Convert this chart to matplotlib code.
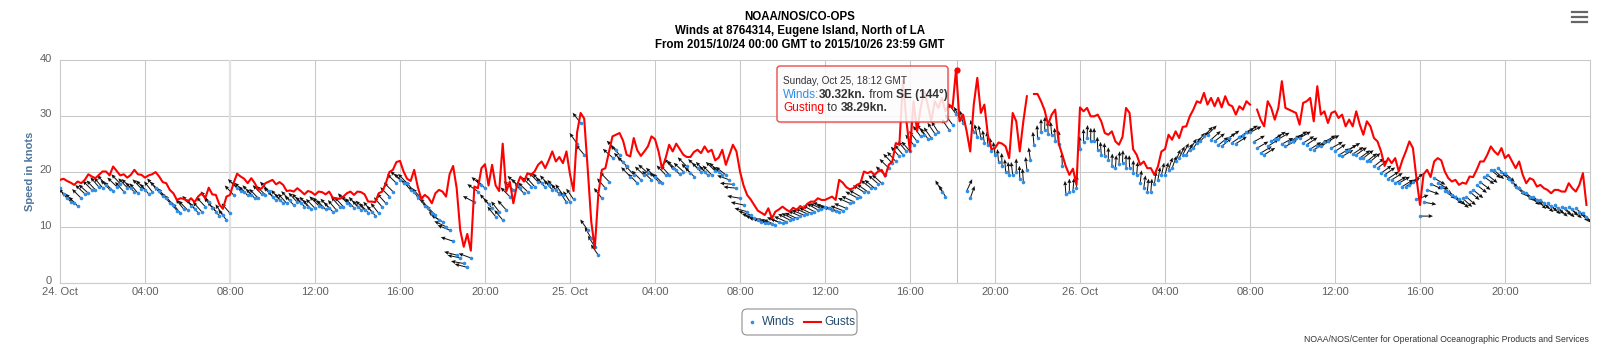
import numpy as np
import matplotlib.pyplot as plt
from matplotlib.patches import FancyBboxPatch
from matplotlib.lines import Line2D
from matplotlib.transforms import IdentityTransform, ScaledTranslation

W, H = 1600, 349
plt.rcParams['font.family'] = ['Liberation Sans', 'DejaVu Sans']

TITLE_LINES = ["NOAA/NOS/CO-OPS",
               "Winds at 8764314, Eugene Island, North of LA",
               "From 2015/10/24 00:00 GMT to 2015/10/26 23:59 GMT"]
Y_TITLE = "Speed in knots"
CREDITS = "NOAA/NOS/Center for Operational Oceanographic Products and Services"

# hours since 2015-10-24 00:00 GMT
X_TICK_HOURS = list(range(0, 72, 4))
X_TICK_LABELS = ["24. Oct", "04:00", "08:00", "12:00", "16:00", "20:00",
                 "25. Oct", "04:00", "08:00", "12:00", "16:00", "20:00",
                 "26. Oct", "04:00", "08:00", "12:00", "16:00", "20:00"]
Y_TICKS = [0, 10, 20, 30, 40]

# gusts, one value every 10 minutes (None = no data), one row per hour
gust_kn = [
    18.5, 18.7, 18.3, 18.0, 17.6, 18.2,
    17.9, 18.5, 19.5, 19.1, 18.8, 19.4,
    20.0, 20.0, 19.3, 20.9, 20.1, 19.3,
    19.5, 18.9, 19.4, 20.3, 19.5, 19.4,
    18.9, 19.3, 19.5, 19.9, 19.1, 18.1,
    17.9, 16.7, 16.1, 14.9, 15.2, 15.1,
    14.6, 15.2, 14.5, 15.5, 16.1, 15.2,
    17.1, 15.9, 15.8, 14.1, 13.3, 15.5,
    15.8, 17.9, 19.6, 19.1, 18.7, 17.9,
    18.8, 17.9, 16.7, 17.0, 17.9, 18.2,
    18.5, 17.7, 18.1, 17.6, 16.5, 16.6,
    16.4, 17.0, 16.5, 15.9, 16.5, 16.3,
    15.8, 16.4, 16.3, 15.9, 16.4, 15.3,
    15.2, 15.1, 15.5, 16.1, 16.4, 15.8,
    16.4, 16.3, 15.9, 14.6, 14.6, 14.5,
    16.1, 16.4, 17.9, 19.9, 20.3, 21.7,
    21.9, 20.0, 18.7, 18.3, 20.3, 17.3,
    15.1, 15.8, 15.3, 14.3, 16.1, 16.7,
    16.4, 15.5, 19.5, 21.0, 17.0, 9.5,
    6.5, 8.8, 5.8, 17.3, 17.0, 20.6,
    21.3, 17.5, 21.2, 17.5, 16.5, 25.0,
    16.4, 18.2, 14.3, 17.5, 19.1, 18.2,
    19.7, 19.4, 20.0, 21.2, 21.8, 20.6,
    22.0, 23.6, 21.8, 22.6, 21.5, 23.6,
    19.5, 16.5, 27.0, 30.5, 29.5, 20.5,
    11.0, 6.2, 16.0, 20.3, 20.6, 23.5,
    26.3, 26.6, 26.9, 25.5, 23.0, 22.7,
    26.0, 23.8, 22.8, 23.6, 24.5, 26.3,
    25.8, 23.6, 20.5, 22.4, 24.8, 23.6,
    25.0, 24.0, 23.0, 22.6, 22.6, 23.5,
    23.9, 23.3, 24.5, 23.5, 23.9, 22.0,
    22.5, 23.9, 21.2, 23.0, 24.8, 23.6,
    20.0, 17.5, 15.8, 15.0, 14.0, 13.0,
    12.6, 12.2, 13.4, 11.6, 12.8, 13.2,
    13.7, 13.2, 12.8, 13.5, 13.1, 13.8,
    13.4, 14.2, 14.6, 14.6, 15.2, 14.9,
    14.9, 15.2, 15.5, 14.9, 18.5, 18.0,
    17.2, 16.8, 17.0, 17.6, 17.9, 20.0,
    19.7, 20.0, 19.4, 20.0, 20.3, 19.1,
    21.2, 21.8, 25.1, 24.8, 36.2, 29.0,
    23.6, 32.6, 27.2, 31.4, 34.4, 32.0,
    29.0, 32.6, 31.4, 33.2, 30.8, 32.0,
    31.4, 38.3, 29.0, 30.2, 27.2, 23.6,
    32.0, 36.8, 30.5, 32.0, 26.5, 24.0,
    24.2, 25.2, 25.0, 24.5, 22.4, 30.5,
    29.0, 23.6, 29.0, 33.5, None, 33.9,
    33.9, 32.6, 31.0, 28.4, 30.2, 31.1,
    25.0, 23.0, 20.9, 19.4, 20.5, 17.6,
    31.5, 30.8, 31.4, 29.9, 29.9, 30.2,
    29.0, 26.9, 26.6, 27.2, 25.4, 24.8,
    26.2, 31.4, 30.5, 24.0, 23.0, 21.2,
    21.8, 20.6, 20.6, 19.4, 20.9, 23.6,
    24.0, 26.6, 25.7, 27.2, 26.0, 28.0,
    28.1, 29.9, 31.1, 32.6, 32.3, 34.1,
    32.0, 33.2, 31.7, 33.2, 31.5, 33.5,
    32.0, 31.7, 30.2, 31.7, 31.1, 32.6,
    32.0, None, 31.1, 29.3, 28.1, 32.6,
    31.4, 29.3, 31.4, 36.2, 31.4, 31.1,
    30.8, 30.5, 28.4, 32.3, 32.6, 33.2,
    29.0, 35.3, 30.2, 30.8, 28.7, 30.5,
    30.8, 29.6, 30.2, 28.1, 29.3, 28.1,
    30.8, 28.4, 26.6, 29.0, 28.1, 26.0,
    25.4, 23.6, 21.0, 22.4, 21.5, 22.4,
    20.0, 22.0, 23.6, 25.4, 24.2, 18.8,
    14.0, 19.5, 20.3, 19.0, 21.8, 22.4,
    22.0, 20.0, 18.8, 18.2, 18.5, 17.6,
    18.0, 17.8, 19.1, 19.0, 20.3, 21.8,
    21.8, 23.0, 24.5, 23.6, 23.0, 24.2,
    22.4, 23.0, 21.8, 20.6, 21.8, 19.4,
    17.9, 18.8, 18.5, 17.3, 17.6, 17.0,
    16.7, 16.1, 16.7, 16.7, 16.4, 16.4,
    17.9, 17.0, 16.4, 17.6, 19.7, 14.0,
]

# winds, one value every 10 minutes, one row per hour
wind_kn = [
    17.0, 16.0, 15.2, 14.6, 14.3, 13.8,
    15.2, 16.0, 16.1, 16.7, 16.7, 17.2,
    17.1, 17.6, 16.8, 16.5, 17.3, 17.8,
    16.4, 17.1, 17.0, 16.3, 16.1, 16.9,
    16.7, 16.0, 16.4, 17.0, 16.5, 15.6,
    15.2, 14.4, 14.0, 13.0, 12.5, 13.2,
    13.1, 13.9, 13.3, 12.6, 12.8, 13.7,
    14.6, 13.5, 12.8, 12.0, 12.2, 11.3,
    12.5, 15.8, 17.0, 16.5, 16.4, 15.7,
    15.8, 15.2, 15.2, 15.9, 15.8, 16.5,
    15.5, 14.8, 14.9, 14.3, 14.3, 14.8,
    14.0, 14.5, 14.3, 13.7, 13.7, 13.2,
    13.4, 13.9, 13.7, 13.2, 13.4, 12.8,
    13.1, 13.7, 13.7, 14.4, 14.0, 13.5,
    13.7, 13.1, 13.1, 12.6, 12.8, 12.1,
    12.5, 13.6, 14.3, 15.5, 16.4, 17.9,
    18.5, 18.0, 17.9, 16.7, 16.4, 15.5,
    15.2, 13.9, 13.4, 12.5, 12.2, 11.3,
    11.0, 10.1, 9.5, 7.5, 5.0, 4.5,
    3.5, 2.8, 4.5, 14.5, 16.4, 17.5,
    17.0, 14.2, 13.4, 11.9, 12.8, 11.3,
    13.1, 15.5, 16.7, 17.6, 17.0, 16.1,
    16.4, 17.3, 17.3, 18.1, 18.0, 17.2,
    17.6, 16.7, 16.7, 15.9, 15.8, 14.5,
    14.5, 15.0, 25.0, 28.7, 23.0, 9.5,
    8.0, 6.5, 5.0, 15.2, 17.0, 18.2,
    22.5, 23.9, 23.0, 21.7, 21.0, 19.1,
    19.4, 17.9, 18.5, 19.3, 19.7, 18.5,
    19.0, 18.2, 18.0, 19.4, 19.4, 20.6,
    20.3, 19.5, 20.0, 20.9, 19.7, 19.1,
    20.6, 19.9, 20.0, 19.3, 19.4, 20.1,
    20.0, 19.4, 19.4, 18.5, 17.7, 17.0,
    15.2, 14.0, 12.8, 12.2, 11.6, 11.3,
    11.0, 10.8, 10.7, 10.5, 10.4, 10.9,
    10.7, 11.0, 11.3, 11.5, 11.6, 12.0,
    12.2, 12.4, 12.5, 12.8, 13.1, 13.3,
    13.7, 13.4, 13.1, 12.9, 12.8, 13.0,
    13.4, 14.3, 14.6, 15.3, 15.5, 16.3,
    16.4, 17.0, 17.0, 17.8, 17.9, 19.3,
    20.6, 21.5, 21.8, 22.7, 23.0, 23.6,
    23.6, 24.8, 25.4, 26.3, 26.6, 25.9,
    26.0, 26.8, 27.0, 16.4, 15.5, 27.5,
    28.4, 30.3, 29.5, 28.7, 16.5, 15.2,
    27.0, 26.2, 26.0, 25.1, 24.8, 23.7,
    23.0, 21.7, 21.0, 19.9, 19.4, 19.4,
    20.0, 18.7, 18.2, 20.3, 22.0, 24.8,
    26.0, 27.1, 27.5, 26.7, 26.6, 25.5,
    25.0, 21.0, 16.0, 16.4, 16.5, 17.0,
    24.0, 25.3, 26.0, 25.5, 25.5, 23.9,
    23.0, 22.8, 22.0, 20.9, 20.6, 21.3,
    21.5, 20.7, 20.6, 19.7, 19.4, 17.9,
    17.0, 16.4, 16.4, 17.7, 18.5, 19.3,
    19.4, 20.3, 20.6, 21.8, 22.4, 23.0,
    23.0, 23.9, 24.2, 25.1, 25.4, 26.3,
    26.6, 25.7, 25.4, 24.7, 24.5, 25.5,
    26.0, 25.2, 25.0, 26.1, 26.6, 27.1,
    27.0, 25.3, 24.2, 23.3, 23.0, 24.5,
    25.4, 25.9, 25.8, 24.9, 24.5, 25.3,
    25.4, 26.0, 26.0, 25.1, 24.8, 24.0,
    23.9, 24.5, 24.5, 25.3, 25.4, 24.2,
    23.6, 22.9, 22.7, 23.6, 23.9, 23.1,
    23.0, 22.4, 22.4, 21.8, 21.8, 20.9,
    20.6, 19.7, 19.4, 18.7, 18.5, 17.9,
    17.9, 17.3, 17.3, 17.5, 18.2, 15.0,
    12.0, 14.5, 16.7, 17.8, 18.8, 18.0,
    17.3, 16.5, 16.4, 15.7, 15.5, 15.0,
    15.2, 15.5, 16.4, 16.7, 17.6, 18.1,
    19.1, 19.4, 20.3, 20.2, 20.6, 19.9,
    19.7, 18.7, 18.2, 17.3, 17.0, 16.3,
    16.1, 15.5, 15.5, 14.9, 14.9, 14.3,
    14.3, 13.9, 14.0, 13.5, 13.7, 13.4,
    13.7, 13.2, 13.4, 12.7, 12.5, 11.9,
]

# direction the wind comes from, degrees, same times as wind_kn
wind_dir_deg = [
    135, 138, 140, 137, 138, 136, 135, 133, 132, 135, 137, 139,
    140, 138, 136, 135, 134, 137, 138, 136, 135, 138, 140, 137,
    137, 140, 142, 139, 136, 138, 140, 139, 138, 140, 142, 141,
    136, 138, 140, 139, 138, 137, 142, 141, 140, 143, 145, 142,
    140, 137, 135, 134, 132, 135, 138, 137, 136, 135, 134, 136,
    137, 139, 140, 139, 138, 136, 135, 137, 138, 139, 140, 138,
    136, 135, 134, 136, 138, 137, 140, 138, 137, 136, 135, 137,
    138, 137, 136, 138, 140, 139, 142, 140, 138, 136, 135, 134,
    132, 134, 136, 138, 140, 139, 138, 140, 142, 138, 135, 128,
    120, 115, 112, 108, 105, 102, 100, 105, 110, 118, 125, 130,
    135, 138, 140, 141, 142, 140, 138, 135, 132, 134, 136, 135,
    134, 136, 138, 136, 135, 136, 137, 139, 140, 142, 145, 146,
    148, 146, 145, 142, 140, 145, 150, 148, 145, 142, 140, 136,
    132, 134, 136, 135, 134, 136, 138, 136, 135, 133, 132, 134,
    136, 135, 134, 136, 138, 137, 135, 133, 132, 135, 137, 136,
    134, 136, 138, 137, 136, 134, 132, 130, 128, 110, 95, 96,
    100, 102, 105, 108, 110, 109, 108, 110, 112, 114, 115, 112,
    110, 114, 118, 116, 115, 113, 112, 114, 116, 118, 120, 115,
    108, 106, 105, 108, 110, 111, 112, 114, 115, 118, 120, 122,
    125, 128, 130, 131, 132, 134, 135, 136, 138, 139, 140, 140,
    140, 141, 142, 144, 145, 145, 145, 146, 148, 150, 150, 146,
    144, 144, 155, 165, 205, 200, 165, 168, 170, 172, 175, 174,
    172, 175, 178, 176, 175, 173, 180, 178, 176, 174, 172, 175,
    178, 180, 182, 178, 175, 177, 180, 178, 176, 180, 185, 182,
    178, 180, 182, 181, 180, 178, 176, 178, 180, 182, 184, 183,
    182, 180, 178, 181, 185, 186, 188, 186, 185, 188, 190, 192,
    195, 198, 200, 202, 205, 208, 210, 212, 215, 218, 220, 222,
    225, 228, 232, 231, 230, 233, 235, 236, 238, 239, 240, 241,
    242, 241, 240, 239, 238, 237, 236, 238, 240, 241, 242, 240,
    238, 239, 240, 238, 236, 237, 240, 239, 238, 240, 242, 241,
    236, 238, 240, 239, 238, 236, 235, 233, 232, 231, 230, 231,
    232, 234, 235, 236, 238, 239, 240, 238, 236, 234, 232, 250,
    270, 280, 290, 295, 300, 302, 305, 306, 308, 309, 310, 311,
    312, 311, 310, 309, 308, 307, 306, 308, 310, 312, 314, 313,
    312, 314, 315, 312, 310, 309, 308, 310, 312, 314, 315, 313,
    310, 312, 314, 313, 312, 314, 315, 313, 312, 315, 318, 320,
]

# hovered point shown in the tooltip
TIP_DATE = "Sunday, Oct 25, 18:12 GMT"
TIP_HOUR = 42.2
TIP_WIND = 30.32
TIP_DIR_TEXT = "SE (144\u00b0)"
TIP_GUST = 38.29

WIND_BLUE = '#2f8fe8'
GRID = '#C8C8C8'


def fx(x):
    return x / W


def fy(y):
    return 1 - y / H


gust = np.array([np.nan if g is None else g for g in gust_kn], dtype=float)
gust_hours = np.arange(len(gust)) / 6
wind = np.array(wind_kn, dtype=float)
wind_hours = np.arange(len(wind)) / 6
toward = np.radians(np.array(wind_dir_deg) + 180)
ARROW_PX = 13
u = ARROW_PX * np.sin(toward)
v = ARROW_PX * np.cos(toward)

fig = plt.figure(figsize=(W / 100, H / 100), dpi=100)
fig.patch.set_facecolor('white')
ax = fig.add_axes([60 / W, 1 - 283 / H, 1530 / W, 223 / H])
ax.set_xlim(0, 72)
ax.set_ylim(0, 40)
for s in ax.spines.values():
    s.set_visible(False)

# grid
for yv in Y_TICKS[1:]:
    ax.axhline(yv, color=GRID, lw=0.75, clip_on=False, zorder=0)
for xv in range(0, 73, 4):
    ax.axvline(xv, color=GRID, lw=0.75, clip_on=False, zorder=0)
ax.axvline(8, color='#E2E2E2', lw=1.6, zorder=0)
ax.axhline(0, color='#C0D0E0', lw=0.9, clip_on=False, zorder=1)
ax.axvline(TIP_HOUR, color='#C0C0C0', lw=0.75, zorder=1)  # crosshair

# winds: dot + arrow pointing where the wind blows
ax.quiver(wind_hours, wind, u, v, angles='uv', scale_units='dots', scale=1,
          units='dots', width=1.0, headwidth=4, headlength=4.5,
          headaxislength=4, color='#111111', zorder=3)
ax.plot(wind_hours, wind, 'o', ms=2.6, color=WIND_BLUE, mec='none', zorder=3.5)

# gusts
ax.plot(gust_hours, gust, color='#ff0000', lw=1.5, zorder=4)
ax.plot(TIP_HOUR, TIP_GUST, 'o', ms=4.5, color='#ff0000', mec='none', zorder=5)

# ticks
ax.set_xticks(X_TICK_HOURS, X_TICK_LABELS)
ax.set_yticks(Y_TICKS)
ax.tick_params(axis='both', length=0, labelsize=8, labelcolor='#606060')
ax.tick_params(axis='x', pad=3)
ax.tick_params(axis='y', pad=6)
for lbl in ax.get_yticklabels():
    lbl.set_transform(lbl.get_transform() + ScaledTranslation(0, 2.5 / 100, fig.dpi_scale_trans))

fig.text(fx(30), fy(171), Y_TITLE, rotation=90, ha='center', va='center',
         fontsize=8, fontweight='bold', color='#4d759e')

# title
for i, line in enumerate(TITLE_LINES):
    fig.text(0.5, fy(17 + 14 * i), line, ha='center', va='center',
             fontsize=8.3, fontweight='bold', color='#000000')

# tooltip
ident = IdentityTransform()
fig.add_artist(FancyBboxPatch((779, H - 124), 171, 56, boxstyle='round,pad=0,rounding_size=3',
                              transform=ident, facecolor=(0, 0, 0, 0.06), edgecolor='none', zorder=9))
fig.add_artist(FancyBboxPatch((777, H - 122), 171, 56, boxstyle='round,pad=0,rounding_size=3',
                              transform=ident, facecolor=(1, 1, 1, 0.85), edgecolor='#f04848',
                              lw=1.0, zorder=10))
renderer = fig.canvas.get_renderer()


def chain(x, y, parts, size):
    for s, color, weight in parts:
        t = fig.text(fx(x), fy(y), s, color=color, fontsize=size, fontweight=weight,
                     ha='left', va='center', zorder=11)
        x = t.get_window_extent(renderer).x1


chain(783, 80.5, [(TIP_DATE, '#333333', 'normal')], 7.2)
chain(783, 95, [("Winds:", WIND_BLUE, 'normal'), (f"{TIP_WIND:.2f}kn.", '#333333', 'bold'),
                (" from ", '#333333', 'normal'), (TIP_DIR_TEXT, '#333333', 'bold')], 8.6)
chain(783, 108.5, [("Gusting", '#ff0000', 'normal'), (" to ", '#333333', 'normal'),
                   (f"{TIP_GUST:.2f}kn.", '#333333', 'bold')], 8.6)

# legend
fig.add_artist(FancyBboxPatch((742, H - 335), 115, 26, boxstyle='round,pad=0,rounding_size=5',
                              transform=ident, facecolor='white', edgecolor='#909090', lw=0.8))
fig.add_artist(Line2D([fx(752)], [fy(322)], marker='o', ms=2.6, color=WIND_BLUE, mec='none'))
fig.text(fx(762), fy(322), "Winds", ha='left', va='center', fontsize=8.6, color='#274b6d')
fig.add_artist(Line2D([fx(804), fx(821)], [fy(322), fy(322)], color='#ff0000', lw=1.5))
fig.text(fx(824), fy(322), "Gusts", ha='left', va='center', fontsize=8.6, color='#274b6d')

# credits
fig.text(fx(1589), fy(340), CREDITS, ha='right', va='center', fontsize=6.2, color='#333333')

# menu icon
for yy in (11.5, 16.5, 21.5):
    fig.add_artist(Line2D([fx(1572), fx(1587)], [fy(yy), fy(yy)], color='#666666', lw=1.6))

fig.savefig('out.png', dpi=100, facecolor='white')
